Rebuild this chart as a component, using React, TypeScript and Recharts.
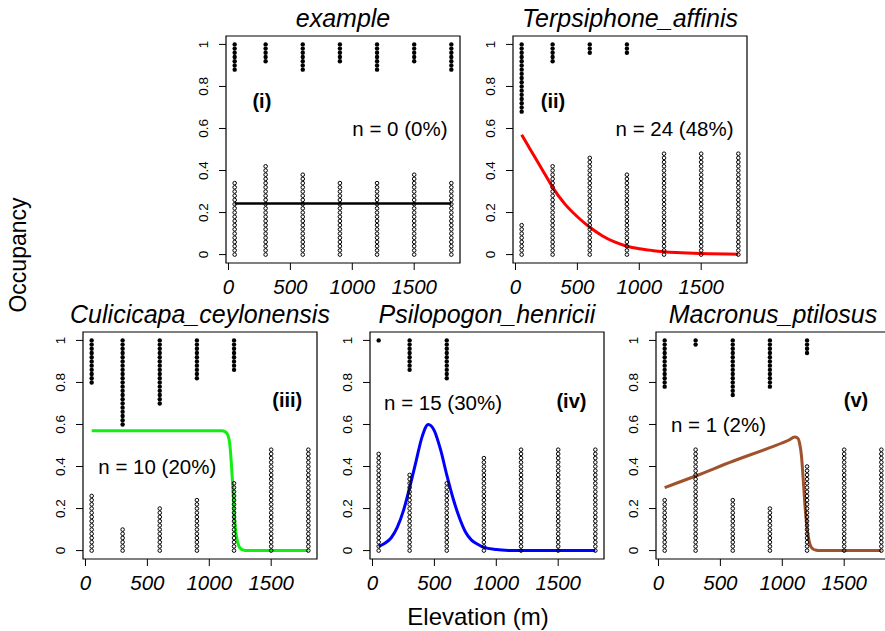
import React from "react";
import { ComposedChart, XAxis, YAxis, Scatter, Line, ReferenceArea } from "recharts";

// ---------- data ----------
const sites = [50, 300, 600, 900, 1200, 1500, 1800];
const STEP = 0.02;
const xTicks = [0, 500, 1000, 1500];
const yTicks = [0, 0.2, 0.4, 0.6, 0.8, 1];

const titles = ["example", "Terpsiphone_affinis", "Culicicapa_ceylonensis", "Psilopogon_henricii", "Macronus_ptilosus"];
const panelTags = ["(i)", "(ii)", "(iii)", "(iv)", "(v)"];
const countLabels = ["n = 0 (0%)", "n = 24 (48%)", "n = 10 (20%)", "n = 15 (30%)", "n = 1 (2%)"];

// detections (1s) and non-detections (0s) per site
const onesExample = [7, 5, 7, 5, 7, 5, 7];
const zerosExample = [18, 22, 20, 18, 18, 20, 18];
const onesTerpsiphone = [17, 5, 3, 3, 0, 0, 0];
const zerosTerpsiphone = [8, 22, 24, 20, 25, 25, 25];
const onesCulicicapa = [11, 21, 16, 10, 8, 0, 0];
const zerosCulicicapa = [14, 6, 11, 13, 17, 25, 25];
const onesPsilopogon = [1, 8, 10, 0, 0, 0, 0];
const zerosPsilopogon = [24, 19, 17, 23, 25, 25, 25];
const onesMacronus = [12, 2, 14, 12, 4, 0, 0];
const zerosMacronus = [13, 25, 13, 11, 21, 25, 25];

// fitted curves
const curveExample = [
  { x: 50, y: 0.243 }, { x: 1800, y: 0.243 },
];
const curveTerpsiphone = [
  { x: 50, y: 0.57 }, { x: 100, y: 0.52 }, { x: 150, y: 0.47 }, { x: 200, y: 0.42 },
  { x: 250, y: 0.37 }, { x: 300, y: 0.32 }, { x: 400, y: 0.24 }, { x: 500, y: 0.18 },
  { x: 600, y: 0.13 }, { x: 700, y: 0.09 }, { x: 800, y: 0.06 }, { x: 900, y: 0.04 },
  { x: 1000, y: 0.028 }, { x: 1100, y: 0.02 }, { x: 1200, y: 0.014 }, { x: 1300, y: 0.01 },
  { x: 1500, y: 0.005 }, { x: 1800, y: 0.002 },
];
const curveCulicicapa = [
  { x: 50, y: 0.57 }, { x: 600, y: 0.57 }, { x: 1100, y: 0.57 }, { x: 1130, y: 0.565 },
  { x: 1150, y: 0.55 }, { x: 1165, y: 0.51 }, { x: 1180, y: 0.4 }, { x: 1195, y: 0.25 },
  { x: 1200, y: 0.19 }, { x: 1210, y: 0.11 }, { x: 1225, y: 0.05 }, { x: 1240, y: 0.02 },
  { x: 1260, y: 0.006 }, { x: 1290, y: 0.001 }, { x: 1350, y: 0 }, { x: 1800, y: 0 },
];
const curvePsilopogon = [
  { x: 50, y: 0.02 }, { x: 100, y: 0.035 }, { x: 150, y: 0.06 }, { x: 200, y: 0.11 },
  { x: 250, y: 0.19 }, { x: 300, y: 0.3 }, { x: 350, y: 0.42 }, { x: 400, y: 0.54 },
  { x: 450, y: 0.6 }, { x: 500, y: 0.57 }, { x: 550, y: 0.48 }, { x: 600, y: 0.36 },
  { x: 650, y: 0.25 }, { x: 700, y: 0.16 }, { x: 750, y: 0.09 }, { x: 800, y: 0.05 },
  { x: 850, y: 0.03 }, { x: 900, y: 0.015 }, { x: 1000, y: 0.005 }, { x: 1100, y: 0.001 },
  { x: 1200, y: 0 }, { x: 1800, y: 0 },
];
const curveMacronus = [
  { x: 50, y: 0.3 }, { x: 300, y: 0.355 }, { x: 600, y: 0.425 }, { x: 900, y: 0.49 },
  { x: 1050, y: 0.525 }, { x: 1100, y: 0.54 }, { x: 1125, y: 0.535 }, { x: 1140, y: 0.51 },
  { x: 1155, y: 0.45 }, { x: 1170, y: 0.33 }, { x: 1185, y: 0.2 }, { x: 1200, y: 0.11 },
  { x: 1215, y: 0.05 }, { x: 1230, y: 0.02 }, { x: 1250, y: 0.007 }, { x: 1275, y: 0.002 },
  { x: 1300, y: 0 }, { x: 1800, y: 0 },
];

// label anchor positions (data coordinates)
const tagPos = [
  { x: 270, y: 0.73 }, { x: 303, y: 0.73 }, { x: 1630, y: 0.715 }, { x: 1607, y: 0.713 }, { x: 1595, y: 0.715 },
];
const countPos = [
  { x: 1385, y: 0.6 }, { x: 1285, y: 0.6 }, { x: 580, y: 0.4 }, { x: 570, y: 0.705 }, { x: 485, y: 0.6 },
];

const colors = ["#000000", "#ff0000", "#11ee11", "#0000ff", "#a0522d"];

// ---------- layout ----------
const PW = 234;
const PH = 227;
const YW = 45;
const XH = 40;
const boxes = [
  { left: 226, top: 36 },
  { left: 513, top: 36 },
  { left: 83, top: 332 },
  { left: 370, top: 332 },
  { left: 656, top: 332 },
];
const FONT = '"Liberation Sans", Arial, Helvetica, sans-serif';

function buildStacks(ones: number[], zeros: number[]) {
  const open: { x: number; y: number }[] = [];
  const filled: { x: number; y: number }[] = [];
  sites.forEach((s, i) => {
    for (let k = 0; k < zeros[i]; k++) open.push({ x: s, y: k * STEP });
    for (let k = 0; k < ones[i]; k++) filled.push({ x: s, y: 1 - k * STEP });
  });
  return { open, filled };
}

const XTick = (p: any) => (
  <text x={p.x} y={p.y + 22} textAnchor="middle" fontSize={20.5} fontStyle="italic" fontFamily={FONT} fill="#000">
    {p.payload.value}
  </text>
);
const YTick = (p: any) => {
  const cx = p.x - 14;
  const v = p.payload.value;
  const t = v === 0 ? "0" : v === 1 ? "1" : String(v);
  return (
    <text x={cx} y={p.y} dy="0.35em" transform={`rotate(-90, ${cx}, ${p.y})`} textAnchor="middle" fontSize={13.5} fontFamily={FONT} fill="#000">
      {t}
    </text>
  );
};

const OpenDot = (p: any) => <circle cx={p.cx} cy={p.cy} r={1.8} fill="none" stroke="#000" strokeWidth={1} />;
const FilledDot = (p: any) => <circle cx={p.cx} cy={p.cy} r={2.2} fill="#000" stroke="none" />;

function Panel({ idx, ones, zeros, curve }: { idx: number; ones: number[]; zeros: number[]; curve: { x: number; y: number }[] }) {
  const { open, filled } = buildStacks(ones, zeros);
  const box = boxes[idx];
  const tagData = [{ ...tagPos[idx], label: panelTags[idx] }];
  const countData = [{ ...countPos[idx], label: countLabels[idx] }];
  return (
    <div style={{ position: "absolute", left: box.left - YW, top: box.top - 1 }}>
      <ComposedChart width={YW + PW + 1} height={PH + XH + 1} margin={{ top: 1, right: 1, bottom: 0, left: 0 }}>
        <XAxis
          type="number"
          dataKey="x"
          domain={[-20, 1870]}
          ticks={xTicks}
          interval={0}
          allowDataOverflow
          axisLine={false}
          tickLine={{ stroke: "#000", strokeWidth: 1 }}
          tickSize={7}
          height={XH}
          tick={<XTick />}
        />
        <YAxis
          type="number"
          dataKey="y"
          domain={[-0.04, 1.04]}
          ticks={yTicks}
          interval={0}
          allowDataOverflow
          axisLine={false}
          tickLine={{ stroke: "#000", strokeWidth: 1 }}
          tickSize={7}
          width={YW}
          tick={<YTick />}
        />
        <ReferenceArea x1={-20} x2={1870} y1={-0.04} y2={1.04} fill="none" stroke="#000" strokeWidth={1.2} fillOpacity={0} />
        <Scatter data={open} shape={<OpenDot />} isAnimationActive={false} />
        <Scatter data={filled} shape={<FilledDot />} isAnimationActive={false} />
        <Line
          data={curve}
          dataKey="y"
          type="monotone"
          stroke={colors[idx]}
          strokeWidth={idx === 0 ? 2.5 : 3}
          dot={false}
          activeDot={false}
          isAnimationActive={false}
        />
        <Scatter
          data={tagData}
          isAnimationActive={false}
          shape={(p: any) => (
            <text x={p.cx} y={p.cy} dy="0.35em" textAnchor="middle" fontSize={20} fontWeight="bold" fontFamily={FONT} fill="#000">
              {p.payload.label}
            </text>
          )}
        />
        <Scatter
          data={countData}
          isAnimationActive={false}
          shape={(p: any) => (
            <text x={p.cx} y={p.cy} dy="0.35em" textAnchor="middle" fontSize={20.5} fontFamily={FONT} fill="#000">
              {p.payload.label}
            </text>
          )}
        />
      </ComposedChart>
    </div>
  );
}

export default function App() {
  return (
    <div style={{ position: "absolute", left: 0, top: 0, width: 885, height: 631, overflow: "hidden", background: "#fff", fontFamily: FONT }}>
      <Panel idx={0} ones={onesExample} zeros={zerosExample} curve={curveExample} />
      <Panel idx={1} ones={onesTerpsiphone} zeros={zerosTerpsiphone} curve={curveTerpsiphone} />
      <Panel idx={2} ones={onesCulicicapa} zeros={zerosCulicicapa} curve={curveCulicicapa} />
      <Panel idx={3} ones={onesPsilopogon} zeros={zerosPsilopogon} curve={curvePsilopogon} />
      <Panel idx={4} ones={onesMacronus} zeros={zerosMacronus} curve={curveMacronus} />
      <svg width={885} height={631} style={{ position: "absolute", left: 0, top: 0, pointerEvents: "none" }}>
        {titles.map((t, i) => (
          <text
            key={t}
            x={boxes[i].left + PW / 2}
            y={boxes[i].top - 9}
            textAnchor="middle"
            fontSize={25}
            fontStyle="italic"
            fontFamily={FONT}
            fill="#000"
          >
            {t}
          </text>
        ))}
        <text x={18} y={255} dy="0.35em" transform="rotate(-90, 18, 255)" textAnchor="middle" fontSize={23} fontFamily={FONT} fill="#000">
          Occupancy
        </text>
        <text x={478} y={625} textAnchor="middle" fontSize={24} fontFamily={FONT} fill="#000">
          Elevation (m)
        </text>
      </svg>
    </div>
  );
}
